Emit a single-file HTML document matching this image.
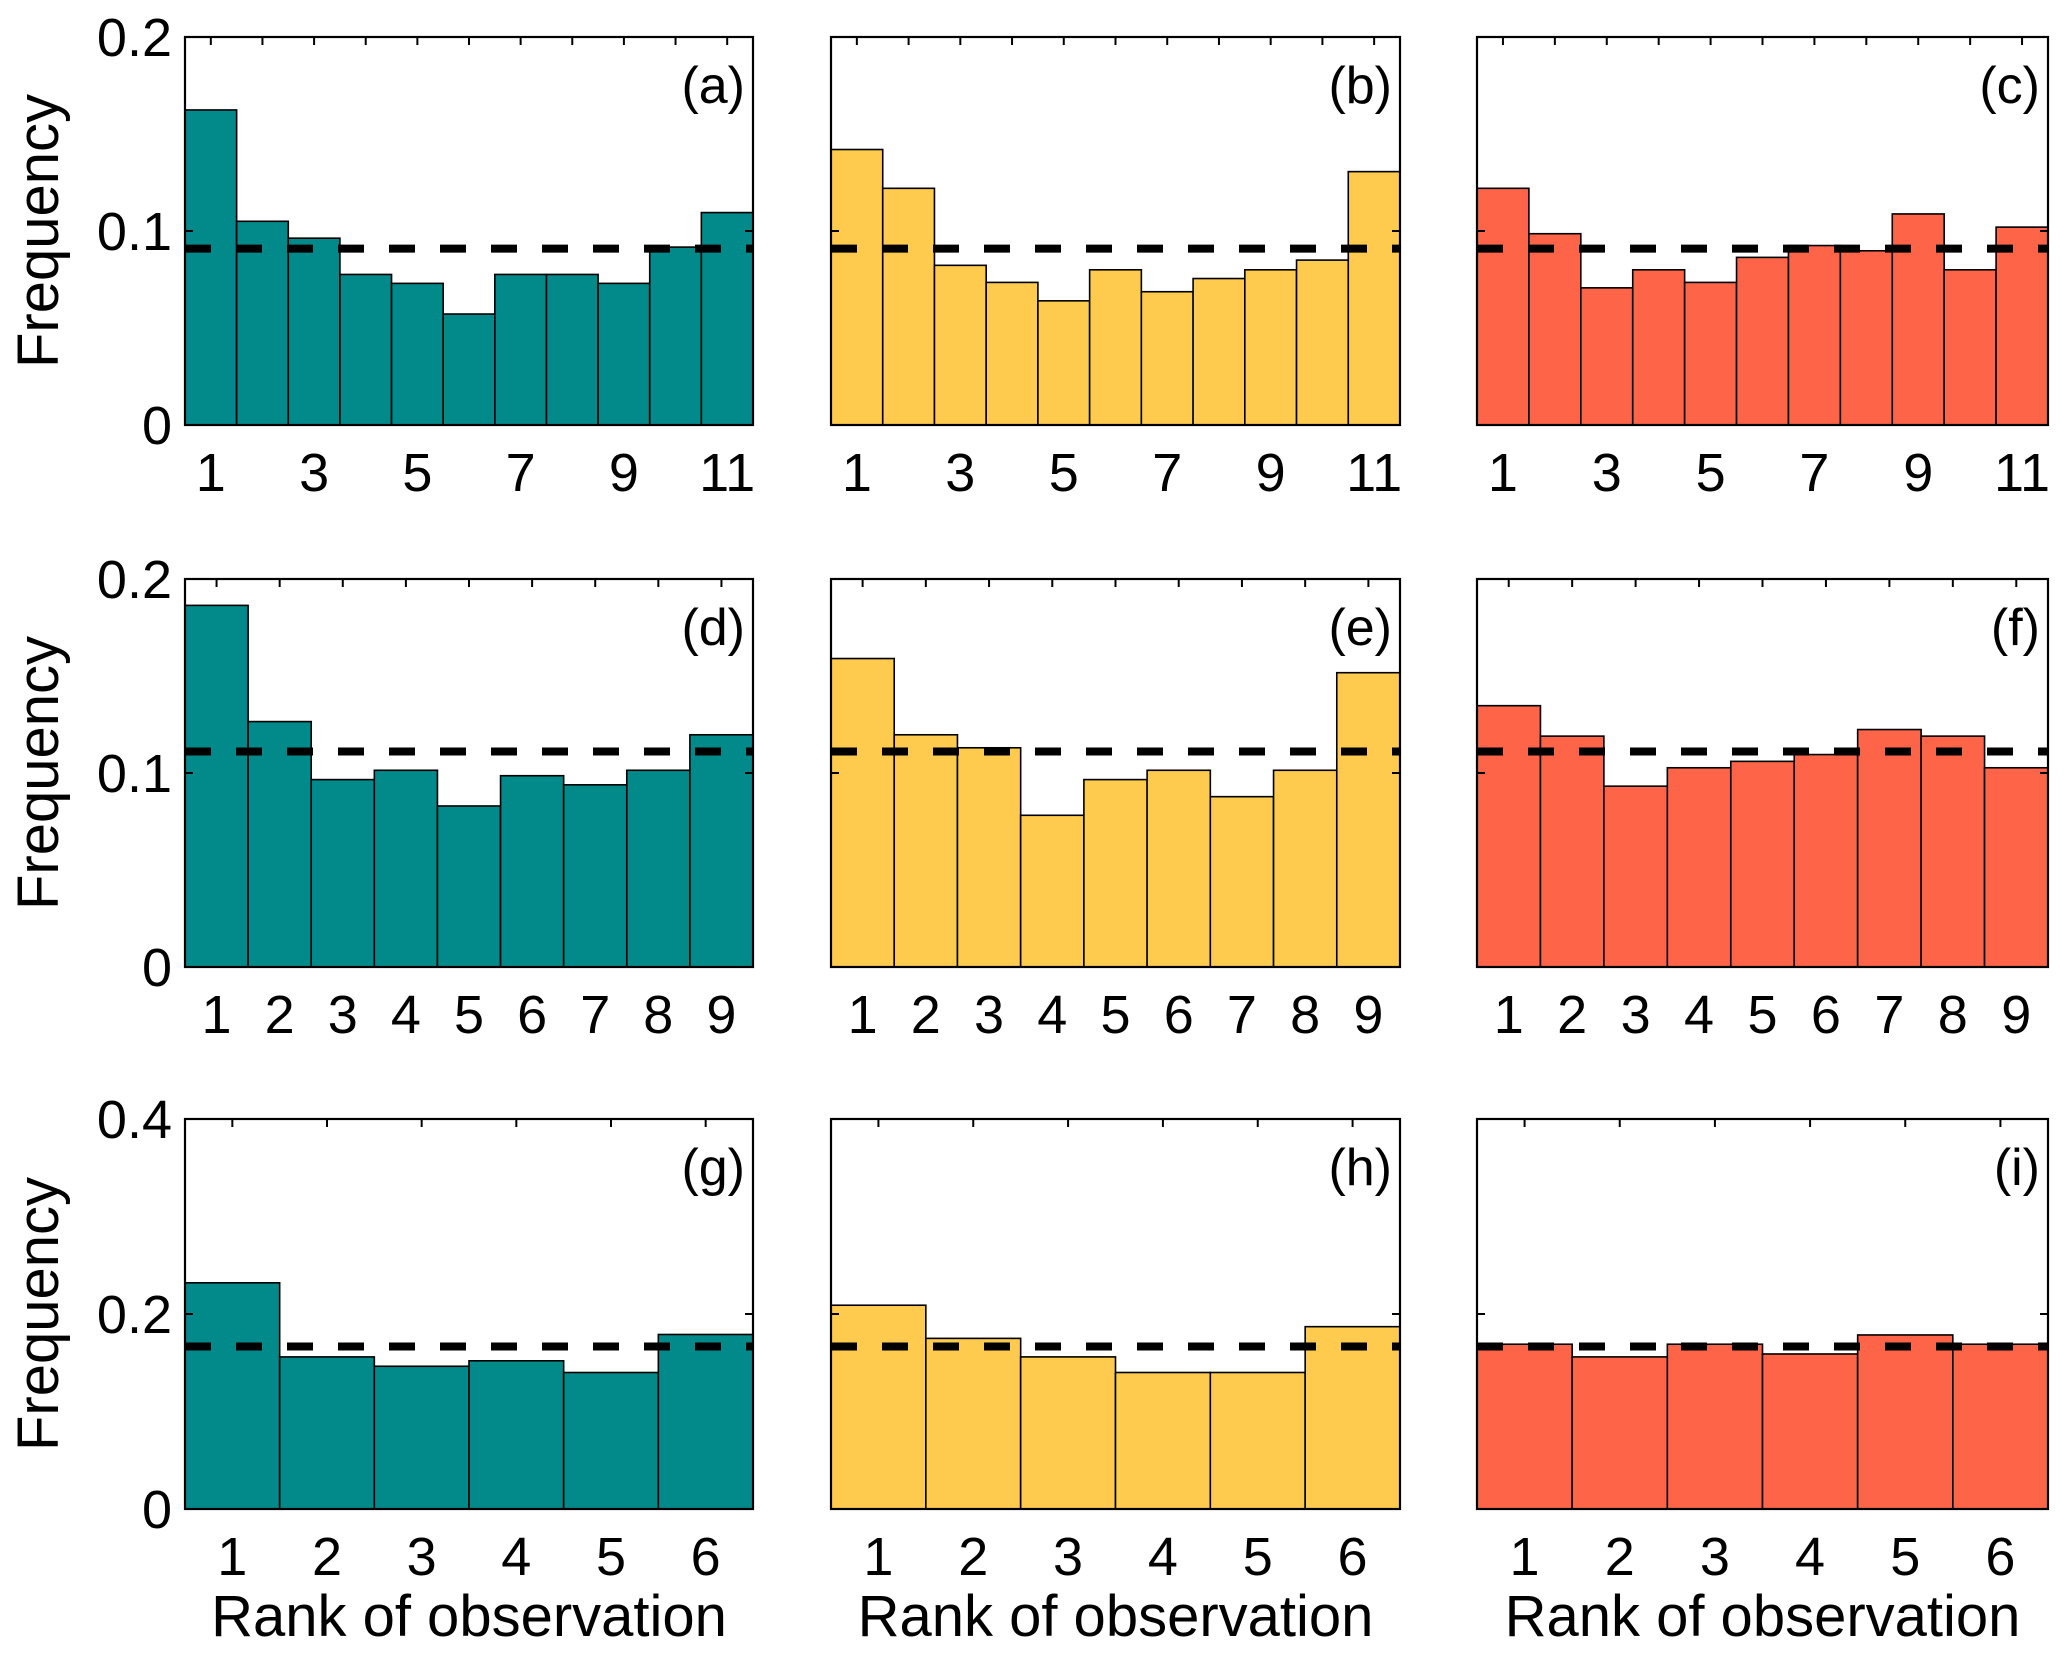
<!DOCTYPE html>
<html><head><meta charset="utf-8"><style>
html,body{margin:0;padding:0;background:#fff}
svg{display:block}
text{font-family:"Liberation Sans",Arial,sans-serif;fill:#000}
</style></head><body>
<svg id="chart" width="2067" height="1654" viewBox="0 0 2067 1654" xmlns="http://www.w3.org/2000/svg"></svg>
<script>
const panelLabels = ["(a)","(b)","(c)","(d)","(e)","(f)","(g)","(h)","(i)"];
const seriesA = [0.1624,0.105,0.0963,0.0776,0.073,0.0572,0.0776,0.0776,0.073,0.0917,0.1095];
const seriesB = [0.142,0.122,0.0823,0.0735,0.064,0.080,0.0687,0.0755,0.080,0.085,0.1306];
const seriesC = [0.122,0.0986,0.0707,0.080,0.0735,0.0864,0.0925,0.0898,0.1088,0.080,0.102];
const seriesD = [0.1864,0.1265,0.0966,0.1014,0.083,0.0986,0.0939,0.1014,0.1197];
const seriesE = [0.159,0.1197,0.113,0.0782,0.0966,0.1014,0.0878,0.1014,0.1517];
const seriesF = [0.1347,0.119,0.0932,0.1027,0.106,0.1095,0.1224,0.119,0.1027];
const seriesG = [0.232,0.156,0.1464,0.152,0.14,0.179];
const seriesH = [0.209,0.175,0.156,0.14,0.14,0.187];
const seriesI = [0.169,0.156,0.169,0.159,0.1785,0.169];
const yMaxRows = [0.2,0.2,0.4];
const yTicksRow1 = ["0","0.1","0.2"];
const yTicksRow2 = ["0","0.1","0.2"];
const yTicksRow3 = ["0","0.2","0.4"];
const refLines = [1/11,1/9,1/6];
const xLabelStepRows = [2,1,1];

const allSeries=[seriesA,seriesB,seriesC,seriesD,seriesE,seriesF,seriesG,seriesH,seriesI];
const yTicksRows=[yTicksRow1,yTicksRow2,yTicksRow3];
const colors=["#028a8a","#fecb4e","#fe6448"];
const colX=[[185,753],[831,1400],[1477,2048]];
const rowY=[[37,425],[579,967],[1119,1509]];
const svg=document.getElementById('chart');
const NS="http://www.w3.org/2000/svg";
function mk(tag,attrs,parent){const e=document.createElementNS(NS,tag);for(const k in attrs)e.setAttribute(k,attrs[k]);(parent||svg).appendChild(e);return e;}

for(let r=0;r<3;r++){for(let c=0;c<3;c++){
  const idx=r*3+c,data=allSeries[idx],n=data.length;
  const [x0,x1]=colX[c],[y0,y1]=rowY[r],ymax=yMaxRows[r];
  const xs=i=>x0+(x1-x0)*i/n;
  const ys=v=>y1-(y1-y0)*v/ymax;
  const g=mk('g',{});
  
  
  data.forEach((v,i)=>{
    const b=mk('rect',{x:xs(i),y:ys(v),width:xs(i+1)-xs(i),height:y1-ys(v),fill:colors[c],stroke:'#000','stroke-width':1.6},g);
    
    
  });
  const ax=mk('rect',{x:x0,y:y0,width:x1-x0,height:y1-y0,fill:'none',stroke:'#000','stroke-width':2.2},g);
  
  
  for(let i=0;i<n;i++){const cx=(xs(i)+xs(i+1))/2;mk('line',{x1:cx,x2:cx,y1:y0,y2:y0+8,stroke:'#000','stroke-width':2},g);}
  const tks=yTicksRows[r];
  tks.forEach((t,k)=>{const yy=y1-(y1-y0)*k/(tks.length-1);
    mk('line',{x1:x0,x2:x0+8,y1:yy,y2:yy,stroke:'#000','stroke-width':2},g);
    mk('line',{x1:x1-8,x2:x1,y1:yy,y2:yy,stroke:'#000','stroke-width':2},g);
    if(c===0){const t2=mk('text',{x:172,y:yy+19,'text-anchor':'end','font-size':54},g);t2.textContent=t;
      
      }
  });
  const dl=mk('line',{x1:x0,x2:x1,y1:ys(refLines[r]),y2:ys(refLines[r]),stroke:'#000','stroke-width':8,'stroke-dasharray':'26 25'},g);
  
  
  for(let i=0;i<n;i+=xLabelStepRows[r]){const cx=(xs(i)+xs(i+1))/2;
    const t=mk('text',{x:cx,y:y1+66,'text-anchor':'middle','font-size':54},g);t.textContent=String(i+1);
    
    }
  const pl=mk('text',{x:x1-8,y:y0+66,'text-anchor':'end','font-size':52},g);pl.textContent=panelLabels[idx];
  
  
  if(c===0){const cy=(y0+y1)/2;const yl=mk('text',{x:58,y:cy,'text-anchor':'middle','font-size':58,transform:'rotate(-90 58 '+cy+')'},g);yl.textContent='Frequency';
    
    }
  if(r===2){const xl=mk('text',{x:(x0+x1)/2,y:1636,'text-anchor':'middle','font-size':58},g);xl.textContent='Rank of observation';
    
    }
}}
</script>
</body></html>
